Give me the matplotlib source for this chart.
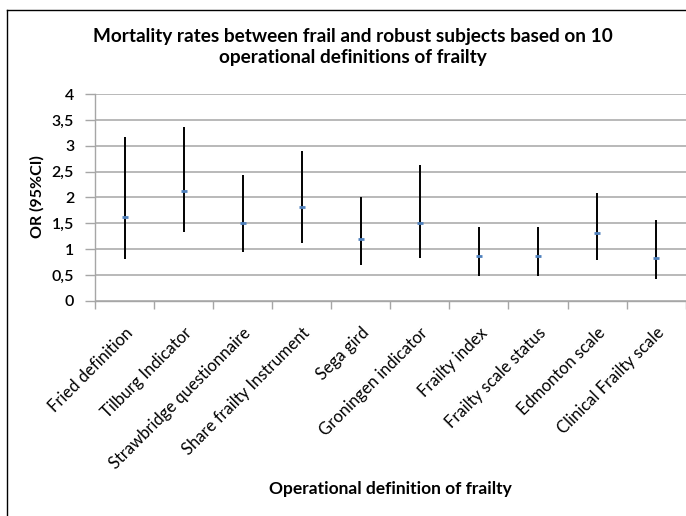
import numpy as np
import matplotlib
matplotlib.use("Agg")
import matplotlib.pyplot as plt
from matplotlib.lines import Line2D
from matplotlib.ticker import FixedLocator

plt.rcParams['font.family'] = ['Lato', 'DejaVu Sans']

definitions = ["Fried definition", "Tilburg Indicator", "Strawbridge questionnaire",
               "Share frailty Instrument", "Sega gird", "Groningen indicator",
               "Frailty index", "Frailty scale status", "Edmonton scale",
               "Clinical Frailty scale"]
odds = [1.63, 2.13, 1.51, 1.81, 1.19, 1.50, 0.86, 0.86, 1.31, 0.84]
ci_low = [0.81, 1.34, 0.94, 1.12, 0.70, 0.84, 0.48, 0.48, 0.79, 0.43]
ci_high = [3.17, 3.37, 2.44, 2.90, 2.00, 2.63, 1.43, 1.43, 2.08, 1.57]
y_ticks = [0, 0.5, 1, 1.5, 2, 2.5, 3, 3.5, 4]
y_labels = ["0", "0,5", "1", "1,5", "2", "2,5", "3", "3,5", "4"]

fig = plt.figure(figsize=(6.86, 5.16), dpi=100)
ax = fig.add_axes([0.1385, 0.4167, 0.861, 0.4011])

x = np.arange(len(definitions))
ax.vlines(x, ci_low, ci_high, color='black', lw=1.4, zorder=3)
ax.plot(x, odds, ls='none', marker='_', ms=4, mew=2, color='#4f81bd', zorder=4)

ax.set_xlim(-0.5, len(definitions) - 0.5)
ax.set_ylim(0, 4)
ax.set_yticks(y_ticks)
ax.set_yticklabels(y_labels, fontweight='semibold', fontsize=11.5)
ax.grid(axis='y', color='#a6a6a6', lw=1.1)
ax.set_axisbelow(True)

ax.set_xticks(x)
ax.set_xticklabels(definitions, rotation=45, ha='right', rotation_mode='anchor', fontsize=12)
ax.xaxis.set_minor_locator(FixedLocator(np.arange(-0.5, len(definitions), 1)))
ax.tick_params(axis='x', which='major', length=0, pad=17)
ax.tick_params(axis='x', which='minor', length=6, color='#a6a6a6', width=1)
ax.tick_params(axis='y', length=7, color='#a6a6a6', width=1, pad=8)

for s in ['top', 'right']:
    ax.spines[s].set_visible(False)
for s in ['left', 'bottom']:
    ax.spines[s].set_color('#a6a6a6')
    ax.spines[s].set_linewidth(1)

fig.text(0.515, 0.909, "Mortality rates between frail and robust subjects based on 10\noperational definitions of frailty",
         ha='center', va='center', fontsize=13.7, fontweight='bold', linespacing=1.35)
fig.text(0.054, 0.619, "OR (95%CI)", rotation=90, ha='center', va='center',
         fontsize=11.5, fontweight='bold')
fig.text(0.569, 0.052, "Operational definition of frailty", ha='center', va='center',
         fontsize=12.5, fontweight='bold')

fig.add_artist(Line2D([0.0102, 0.0102], [0, 0.9806], color='black', lw=1))
fig.add_artist(Line2D([0.0102, 1.0], [0.9806, 0.9806], color='black', lw=1))

fig.savefig("out.png", dpi=100)
